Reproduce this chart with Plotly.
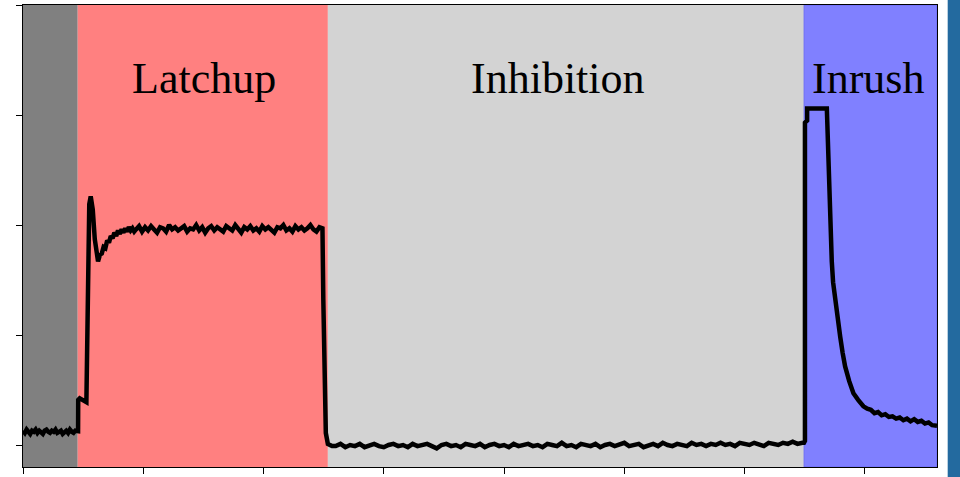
import plotly.graph_objects as go

# --- data (x in arbitrary time units, y in arbitrary current units) ---
pre_x = [0.000, 0.015, 0.030, 0.045, 0.060, 0.075, 0.090, 0.105, 0.120, 0.135,
         0.150, 0.165, 0.180, 0.195, 0.210, 0.225, 0.240, 0.255, 0.270, 0.285,
         0.300, 0.315, 0.330, 0.345, 0.360, 0.375, 0.390, 0.405, 0.420, 0.435, 0.450]
pre_y = [0.13, 0.11, 0.14, 0.12, 0.10, 0.13, 0.12, 0.14, 0.11, 0.13,
         0.12, 0.10, 0.13, 0.14, 0.12, 0.11, 0.13, 0.12, 0.14, 0.11,
         0.12, 0.13, 0.10, 0.12, 0.13, 0.11, 0.14, 0.12, 0.11, 0.13, 0.12]

rise_x = [0.458, 0.459, 0.472, 0.527, 0.541, 0.551, 0.563, 0.580, 0.597, 0.624,
          0.640, 0.655, 0.670, 0.685, 0.700, 0.715, 0.730, 0.745, 0.760, 0.775,
          0.790, 0.805, 0.820, 0.835, 0.850, 0.865, 0.880, 0.895, 0.910, 0.925]
rise_y = [0.126, 0.41, 0.425, 0.39, 1.33, 2.19, 2.26, 2.14, 1.87, 1.67,
          1.73, 1.74, 1.80, 1.79, 1.86, 1.84, 1.90, 1.88, 1.93, 1.90,
          1.95, 1.92, 1.96, 1.93, 1.97, 1.94, 1.98, 1.95, 1.97, 1.94]

plateau_x = [0.940, 0.965, 0.990, 1.015, 1.040, 1.065, 1.090, 1.115, 1.140, 1.165,
             1.190, 1.215, 1.240, 1.265, 1.290, 1.315, 1.340, 1.365, 1.390, 1.415,
             1.440, 1.465, 1.490, 1.515, 1.540, 1.565, 1.590, 1.615, 1.640, 1.665,
             1.690, 1.715, 1.740, 1.765, 1.790, 1.815, 1.840, 1.865, 1.890, 1.915,
             1.940, 1.965, 1.990, 2.015, 2.040, 2.065, 2.090, 2.115, 2.140, 2.165,
             2.190, 2.215, 2.240, 2.265, 2.290, 2.315, 2.340, 2.365, 2.390, 2.415,
             2.440, 2.465, 2.490]
plateau_y = [1.96, 1.99, 1.94, 1.98, 1.95, 1.99, 1.96, 1.93, 1.98, 1.97,
             1.94, 2.00, 1.96, 1.98, 1.95, 1.97, 1.99, 1.94, 1.97, 1.96,
             2.00, 1.95, 1.98, 1.93, 1.97, 1.99, 1.95, 1.98, 1.96, 1.94,
             1.99, 1.97, 1.95, 2.00, 1.96, 1.93, 1.98, 1.96, 1.99, 1.95,
             1.97, 1.94, 1.99, 1.96, 1.98, 1.95, 1.93, 1.98, 1.97, 2.00,
             1.95, 1.97, 1.94, 1.99, 1.96, 1.98, 1.95, 1.97, 2.00, 1.96,
             1.94, 1.98, 1.97]

fall_x = [2.497, 2.506, 2.518, 2.535, 2.570]
fall_y = [1.33, 0.42, 0.11, 0.01, -0.01]

inhib_x = [2.60, 2.64, 2.68, 2.72, 2.76, 2.80, 2.84, 2.88, 2.92, 2.96,
           3.00, 3.04, 3.08, 3.12, 3.16, 3.20, 3.24, 3.28, 3.32, 3.36,
           3.40, 3.44, 3.48, 3.52, 3.56, 3.60, 3.64, 3.68, 3.72, 3.76,
           3.80, 3.84, 3.88, 3.92, 3.96, 4.00, 4.04, 4.08, 4.12, 4.16,
           4.20, 4.24, 4.28, 4.32, 4.36, 4.40, 4.44, 4.48, 4.52, 4.56,
           4.60, 4.64, 4.68, 4.72, 4.76, 4.80, 4.84, 4.88, 4.92, 4.96,
           5.00, 5.04, 5.08, 5.12, 5.16, 5.20, 5.24, 5.28, 5.32, 5.36,
           5.40, 5.44, 5.48, 5.52, 5.56, 5.60, 5.64, 5.68, 5.72, 5.76,
           5.80, 5.84, 5.88, 5.92, 5.96, 6.00, 6.04, 6.08, 6.12, 6.16,
           6.20, 6.24, 6.28, 6.32, 6.36, 6.40, 6.44, 6.48, 6.494]
inhib_y = [-0.01, 0.01, -0.02, 0.00, -0.01, 0.01, -0.02, 0.00, 0.01, -0.01,
           -0.02, 0.00, 0.01, -0.01, 0.00, -0.02, 0.01, -0.01, 0.00, 0.01,
           -0.01, -0.03, 0.00, 0.01, -0.01, 0.00, -0.02, 0.01, 0.00, -0.01,
           0.01, -0.02, 0.00, 0.01, -0.01, 0.00, -0.02, 0.01, -0.01, 0.00,
           0.01, -0.01, 0.00, -0.02, 0.01, 0.00, -0.01, 0.02, -0.01, 0.00,
           -0.02, 0.01, 0.00, -0.01, 0.01, -0.02, 0.00, 0.01, -0.01, 0.00,
           0.02, -0.01, 0.00, 0.01, -0.02, 0.00, 0.01, -0.01, 0.02, 0.00,
           -0.01, 0.01, 0.00, -0.01, 0.02, 0.00, 0.01, -0.01, 0.01, 0.00,
           0.02, 0.00, 0.01, -0.01, 0.02, 0.01, 0.00, 0.02, 0.01, -0.01,
           0.02, 0.01, 0.00, 0.02, 0.01, 0.03, 0.01, 0.02, 0.02]

inrush_x = [6.502, 6.502, 6.52, 6.52, 6.684, 6.690, 6.697, 6.703, 6.711, 6.718,
            6.725, 6.736, 6.753, 6.774, 6.795, 6.815, 6.836, 6.870, 6.905, 6.944,
            6.988, 7.02, 7.05, 7.08, 7.11, 7.14, 7.17, 7.20, 7.23, 7.26,
            7.29, 7.32, 7.35, 7.38, 7.41, 7.44, 7.47, 7.50, 7.53, 7.56, 7.60]
inrush_y = [0.036, 2.93, 2.95, 3.06, 3.06, 2.82, 2.58, 2.35, 2.13, 1.90,
            1.67, 1.48, 1.31, 1.14, 0.985, 0.84, 0.714, 0.58, 0.47, 0.41,
            0.352, 0.33, 0.32, 0.29, 0.30, 0.27, 0.28, 0.255, 0.26, 0.24,
            0.25, 0.225, 0.24, 0.215, 0.235, 0.21, 0.22, 0.195, 0.205, 0.18, 0.175]

regions = [  # (start, end, colour)
    (0.0, 0.455, "#808080"),
    (0.455, 2.535, "#ff8080"),
    (2.535, 6.495, "#d3d3d3"),
    (6.495, 7.6, "#8080ff"),
]
labels = ["Latchup", "Inhibition", "Inrush"]
label_x = [1.505, 4.445, 7.026]

x_all = pre_x + rise_x + plateau_x + fall_x + inhib_x + inrush_x
y_all = pre_y + rise_y + plateau_y + fall_y + inhib_y + inrush_y

fig = go.Figure()
fig.add_trace(go.Scatter(x=x_all, y=y_all, mode="lines",
                         line=dict(color="black", width=4.5), showlegend=False))

for (a, b, c) in regions:
    fig.add_shape(type="rect", xref="x", yref="paper", x0=a, x1=b, y0=0, y1=1,
                  fillcolor=c, line=dict(width=1 if c == "#8080ff" else 0,
                                         color="#6b6bf5"),
                  layer="below")

for t, lx in zip(labels, label_x):
    fig.add_annotation(x=lx, y=0.841, xref="x", yref="paper", text=t, showarrow=False,
                       font=dict(family="Liberation Serif", size=44, color="black"),
                       xanchor="center", yanchor="middle")

# blue bar at the right page edge
fig.add_shape(type="rect", xref="paper", yref="paper", x0=1.0117, x1=1.03,
              y0=-0.03, y1=1.02, fillcolor="#236a9f", line=dict(width=0))

fig.update_xaxes(range=[0, 7.6], tickvals=[0, 1, 2, 3, 4, 5, 6, 7], ticks="outside",
                 ticklen=6, tickcolor="black", showticklabels=False, showgrid=False,
                 zeroline=False, showline=True, mirror=True, linecolor="black",
                 linewidth=1)
fig.update_yaxes(range=[-0.2, 4], tickvals=[0, 1, 2, 3, 4], ticks="outside",
                 ticklen=6, tickcolor="black", showticklabels=False, showgrid=False,
                 zeroline=False, showline=True, mirror=True, linecolor="black",
                 linewidth=1)

fig.update_layout(width=960, height=477, margin=dict(l=23, r=23, t=4, b=8),
                  plot_bgcolor="white", paper_bgcolor="white")

fig.write_html("out.html")
